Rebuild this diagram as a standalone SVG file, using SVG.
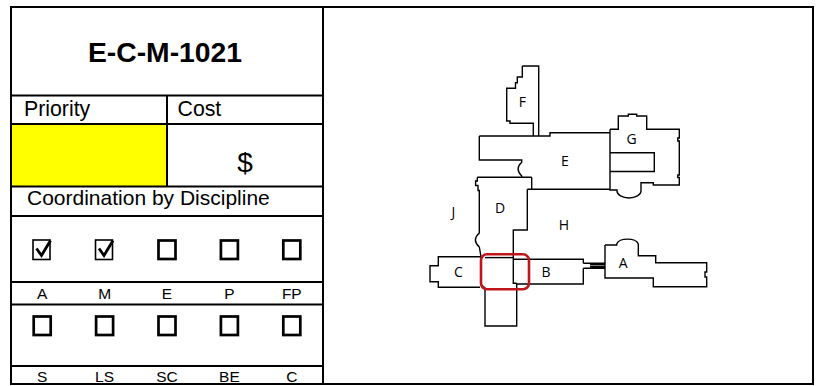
<svg xmlns="http://www.w3.org/2000/svg" width="817" height="386" viewBox="0 0 817 386">
<style>
.frame{fill:none;stroke:#000;stroke-width:2}
.t{font-family:"Liberation Sans",Arial,sans-serif;fill:#000}
.lbl{font-family:"Liberation Sans",Arial,sans-serif;font-size:15.5px;text-anchor:middle;fill:#000}
.box{fill:none;stroke:#000;stroke-width:2.7}
.cbox{fill:none;stroke:#000;stroke-width:1.6}
.chk{fill:none;stroke:#000;stroke-width:2.8;stroke-linejoin:miter}
.w{fill:none;stroke:#000;stroke-width:1.4;stroke-linejoin:miter}
.pl{font-family:"Open Sans","Noto Sans",sans-serif;font-size:14px;text-anchor:middle;fill:#000}
</style>
<rect x="0" y="0" width="817" height="386" fill="#fff"/>
<g id="panel-left">
  <rect x="11" y="124" width="156" height="62.5" fill="#ffff00"/>
  <g id="grid">
    <rect class="frame" x="11" y="7" width="802" height="377"/>
    <line class="frame" x1="323" y1="7" x2="323" y2="384"/>
    <line class="frame" x1="11" y1="95.5" x2="323" y2="95.5"/>
    <line class="frame" x1="11" y1="124" x2="323" y2="124"/>
    <line class="frame" x1="11" y1="186.5" x2="323" y2="186.5"/>
    <line class="frame" x1="11" y1="216" x2="323" y2="216"/>
    <line class="frame" x1="11" y1="282" x2="323" y2="282"/>
    <line class="frame" x1="11" y1="304.5" x2="323" y2="304.5"/>
    <line class="frame" x1="11" y1="366" x2="323" y2="366"/>
    <line class="frame" x1="167" y1="95.5" x2="167" y2="186.5"/>
  </g>
  <g id="title"><text class="t" x="165" y="62" font-size="28.3" font-weight="bold" text-anchor="middle">E-C-M-1021</text></g>
  <g id="priority"><text class="t" x="24" y="115.5" font-size="21.3">Priority</text></g>
  <g id="cost"><text class="t" x="177.5" y="115.5" font-size="21.3">Cost</text>
    <text class="t" x="245" y="172" font-size="28" text-anchor="middle">$</text></g>
  <g id="coordination"><text class="t" x="27" y="205" font-size="21">Coordination by Discipline</text></g>
  <g id="checks-row1">
    <rect class="cbox" x="33" y="240" width="17" height="19.5"/>
    <path class="chk" d="M36.5,248.5 L41.5,255.5 L50.5,240.5"/>
    <rect class="cbox" x="95.5" y="240" width="17" height="19.5"/>
    <path class="chk" d="M99,248.5 L104,255.5 L113,240.5"/>
    <rect class="box" x="158.5" y="240.5" width="17" height="18.5"/>
    <rect class="box" x="220.9" y="240.5" width="17" height="18.5"/>
    <rect class="box" x="283.3" y="240.5" width="17" height="18.5"/>
  </g>
  <g id="labels-row1">
    <text class="lbl" x="42.2" y="298.5">A</text>
    <text class="lbl" x="104.6" y="298.5">M</text>
    <text class="lbl" x="167" y="298.5">E</text>
    <text class="lbl" x="229.4" y="298.5">P</text>
    <text class="lbl" x="291.8" y="298.5">FP</text>
  </g>
  <g id="checks-row2">
    <rect class="box" x="33.7" y="316.5" width="17" height="18.5"/>
    <rect class="box" x="96.1" y="316.5" width="17" height="18.5"/>
    <rect class="box" x="158.5" y="316.5" width="17" height="18.5"/>
    <rect class="box" x="220.9" y="316.5" width="17" height="18.5"/>
    <rect class="box" x="283.3" y="316.5" width="17" height="18.5"/>
  </g>
  <g id="labels-row2">
    <text class="lbl" x="42.2" y="381.5">S</text>
    <text class="lbl" x="104.6" y="381.5">LS</text>
    <text class="lbl" x="167" y="381.5">SC</text>
    <text class="lbl" x="229.4" y="381.5">BE</text>
    <text class="lbl" x="291.8" y="381.5">C</text>
  </g>
</g>
<g id="plan">
  <g id="bldg-F">
    <path class="w" d="M522.3,66 H538.7 V136 M533.3,136 V123.3 H510 V121 H506.7 V88.3 H515.5 V82.7 H517.3 V77 H522.3 V66"/>
    <text class="pl" x="522.3" y="107.3">F</text>
  </g>
  <g id="bldg-E">
    <path class="w" d="M479.3,136 H550 V132.7 H610 M479.3,136 V160 H521.7 V162.3 Q514.5,169 521.7,176 V177.3 M531.7,177.3 V189.3 M527.3,189.3 H610"/>
    <text class="pl" x="565" y="166">E</text>
  </g>
  <g id="bldg-G">
    <path class="w" d="M610,129.3 H618.3 V116 H628.3 V114.3 H636.7 V116 H646.7 V129.3 H679.3 V138 H677.8 V141 H679.3 V175 H677.8 V177.5 H679.3 V185 H653.3 V182.7 H641 V191 A12,7 0 0 1 617,191 V190 H610 V129.3 M610,152.7 H654.3 V171.5 H610"/>
    <text class="pl" x="631.7" y="143.5">G</text>
  </g>
  <g id="bldg-D">
    <path class="w" d="M477.3,177.3 H531.7 M477.3,177.3 V181 H475.6 V185.5 H478 V190.5 H479.3 V233 Q471.5,240 479.3,247 L481,256.7 M527.3,189.3 V230 H513.3 V283.3 H516.7"/>
    <text class="pl" x="500" y="213.3">D</text>
  </g>
  <g id="area-J"><text class="pl" x="453.3" y="216.5">J</text></g>
  <g id="area-H"><text class="pl" x="564" y="230">H</text></g>
  <g id="bldg-C">
    <path class="w" d="M481,256.7 H438.3 V265.7 H430 V281.7 H438.3 V287.3 H480"/>
    <text class="pl" x="458.3" y="277">C</text>
  </g>
  <g id="bldg-center">
    <path class="w" d="M481,256.7 V284.5 L485,288 V326 H516.7 V283.3"/>
    <path class="w" stroke-width="2.2" d="M485,257.6 H513.3"/>
  </g>
  <g id="bldg-B">
    <path class="w" d="M513.3,259.3 H583.3 V263.3 M516.7,284 H583.3 V268.3"/>
    <text class="pl" x="546" y="277.3">B</text>
  </g>
  <g id="bldg-A">
    <path class="w" d="M583.3,263.3 H605 M583.3,268.3 H605 M590,264.8 H605 M590,266.8 H605 M605,245 H616.7 V244 A11,6 0 0 1 638.3,244 V255.7 H655.7 V262.7 H706.7 V272 H705 V277 H706.7 V286.7 H653.3 V278 H605 V245"/>
    <text class="pl" x="623.3" y="268.3">A</text>
  </g>
</g>
<g id="connectors"></g>
<g id="highlight">
  <rect x="481" y="254.3" width="48" height="35" rx="6" ry="6" fill="none" stroke="#c0141b" stroke-width="2.6"/>
</g>
</svg>
